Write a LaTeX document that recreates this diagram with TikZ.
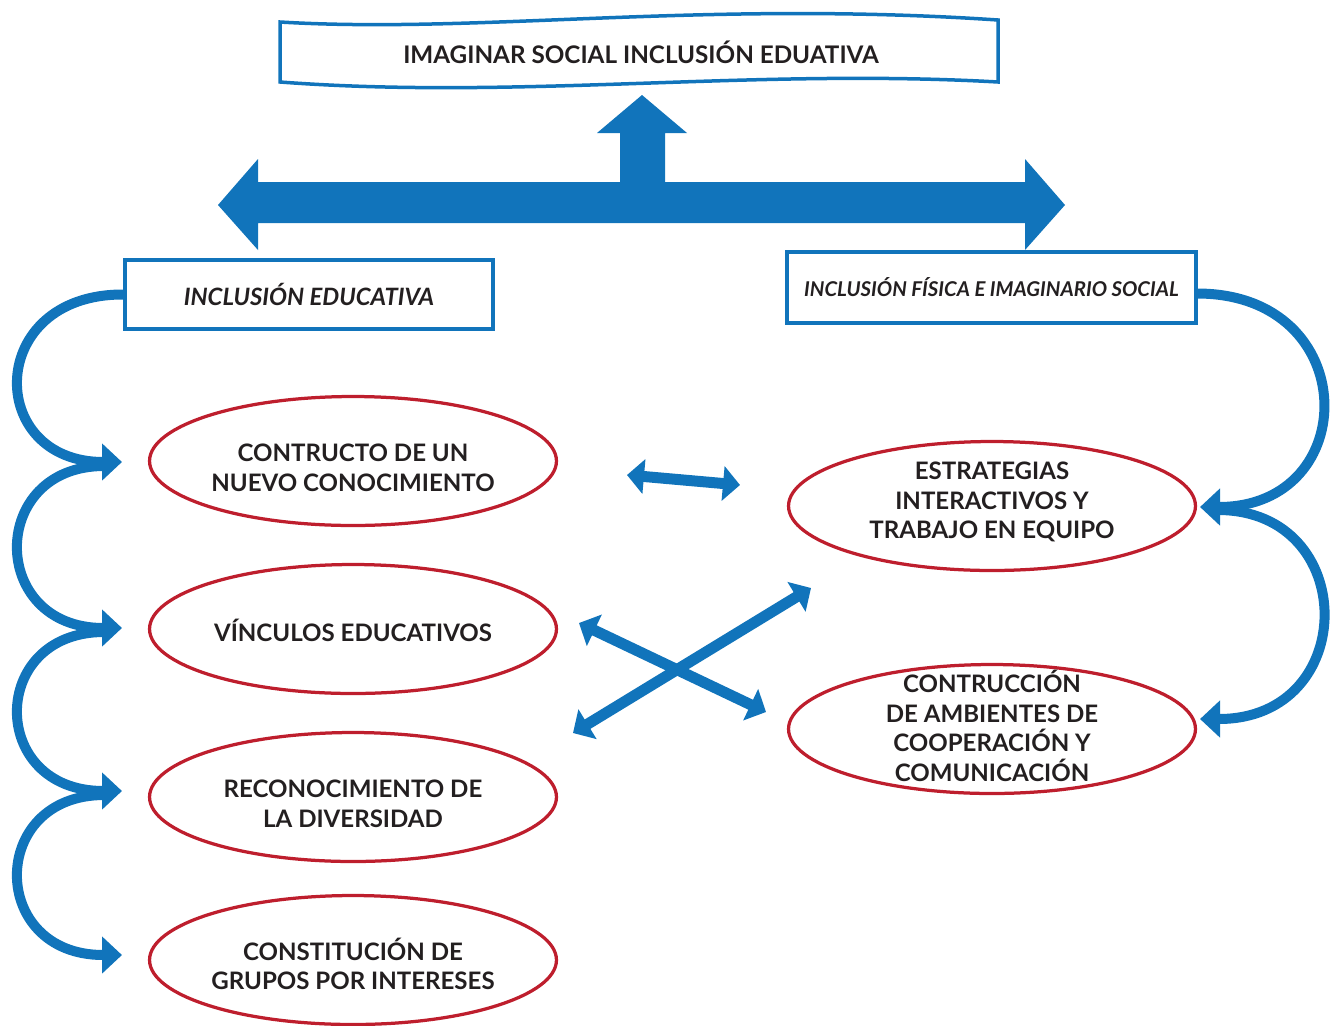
\documentclass[tikz,border=0pt]{standalone}
\usepackage{fontspec}
\setmainfont{Lato}
\usetikzlibrary{shapes.geometric,arrows.meta,calc}
\definecolor{myblue}{HTML}{1174BB}
\definecolor{myred}{HTML}{BE1E2D}
\definecolor{mytext}{HTML}{231F20}
\tikzset{
 ell/.style={ellipse, draw=myred, line width=0.065cm, minimum width=8.14cm, minimum height=2.58cm, inner sep=0pt},
 box/.style={rectangle, draw=myblue, line width=0.07cm, inner sep=0pt, text=mytext},
 lbl/.style={align=center, text=mytext, inner sep=0pt, font=\bfseries\fontsize{13.7}{16.9}\selectfont},
 arcarrow/.style={draw=myblue, line width=0.2cm, -{Triangle[length=0.4cm,width=0.72cm]}},
 dblarrow/.style={draw=myblue, line width=0.22cm, {Triangle[length=0.34cm,width=0.68cm]}-{Triangle[length=0.34cm,width=0.68cm]}}
}
\begin{document}
\begin{tikzpicture}[x=0.02cm,y=-0.02cm]
\useasboundingbox (0,0) rectangle (1331,1025);
% banner
\draw[myblue, line width=0.07cm, fill=white] (280,22) .. controls (480,34) and (700,0) .. (998,20) -- (998,82) .. controls (750,68) and (520,100) .. (280,82) -- cycle;
\node[lbl, font=\bfseries\fontsize{13.8}{16.9}\selectfont] (banner) at (641,52) {IMAGINAR SOCIAL INCLUSIÓN EDUATIVA};
% big arrow
\fill[myblue] (218,205) -- (258,159) -- (258,182) -- (620,182) -- (620,133) -- (597,133) -- (642,95) -- (687,133) -- (665,133) -- (665,182) -- (1025,182) -- (1025,159) -- (1065,205) -- (1025,250) -- (1025,223) -- (258,223) -- (258,250) -- cycle;
% boxes
\node[box, minimum width=7.36cm, minimum height=1.38cm, font=\bfseries\itshape\fontsize{13.6}{16.5}\selectfont] (b1) at (309,294.5) {INCLUSIÓN EDUCATIVA};
\node[box, minimum width=8.18cm, minimum height=1.42cm, font=\bfseries\itshape\fontsize{11.6}{14}\selectfont] (b2) at (991.5,287.5) {INCLUSIÓN FÍSICA E IMAGINARIO SOCIAL};
% ellipses
\node[ell] (e1) at (353,461) {};
\node[ell] (e2) at (353,629) {};
\node[ell] (e3) at (353,797) {};
\node[ell] (e4) at (353,960) {};
\node[ell] (e5) at (992,506) {};
\node[ell] (e6) at (992,729) {};
\node[lbl] (t1) at (353,468) {CONTRUCTO DE UN\\NUEVO CONOCIMIENTO};
\node[lbl] (t2) at (353,630) {VÍNCULOS EDUCATIVOS};
\node[lbl] (t3) at (353,804) {RECONOCIMIENTO DE\\LA DIVERSIDAD};
\node[lbl] (t4) at (353,964) {CONSTITUCIÓN DE\\GRUPOS POR INTERESES};
\node[lbl] (t5) at (992,502) {ESTRATEGIAS\\INTERACTIVOS Y\\TRABAJO EN EQUIPO};
\node[lbl] (t6) at (992,726) {CONTRUCCIÓN\\DE AMBIENTES DE\\COOPERACIÓN Y\\COMUNICACIÓN};
% left curved arrows
\coordinate (p1) at (122,462);
\coordinate (p2) at (122,628);
\coordinate (p3) at (122,791);
\coordinate (p4) at (122,955);
\coordinate (q1) at (104,466);
\coordinate (q2) at (104,632);
\coordinate (q3) at (104,795);
\draw[arcarrow] (b1.west) .. controls (-15,294) and (-15,462) .. (p1);
\draw[arcarrow] (q1) .. controls (-12,466) and (-12,628) .. (p2);
\draw[arcarrow] (q2) .. controls (-12,632) and (-12,791) .. (p3);
\draw[arcarrow] (q3) .. controls (-12,795) and (-12,955) .. (p4);
% right curved arrows
\coordinate (r1) at (1200,507);
\coordinate (r2) at (1200,719);
\coordinate (s1) at (1218,510);
\draw[arcarrow] ($(b2.east)+(0,6)$) .. controls (1363,294) and (1363,507) .. (r1);
\draw[arcarrow] (s1) .. controls (1360,510) and (1360,719) .. (r2);
% middle double arrows
\coordinate (m1) at (627,475);
\coordinate (m2) at (740,485);
\coordinate (c1) at (579,623);
\coordinate (c2) at (766,712);
\coordinate (c3) at (573,733);
\coordinate (c4) at (811,588);
\draw[dblarrow] (m1) -- (m2);
\draw[dblarrow] (c1) -- (c2);
\draw[dblarrow] (c3) -- (c4);
\end{tikzpicture}
\end{document}
